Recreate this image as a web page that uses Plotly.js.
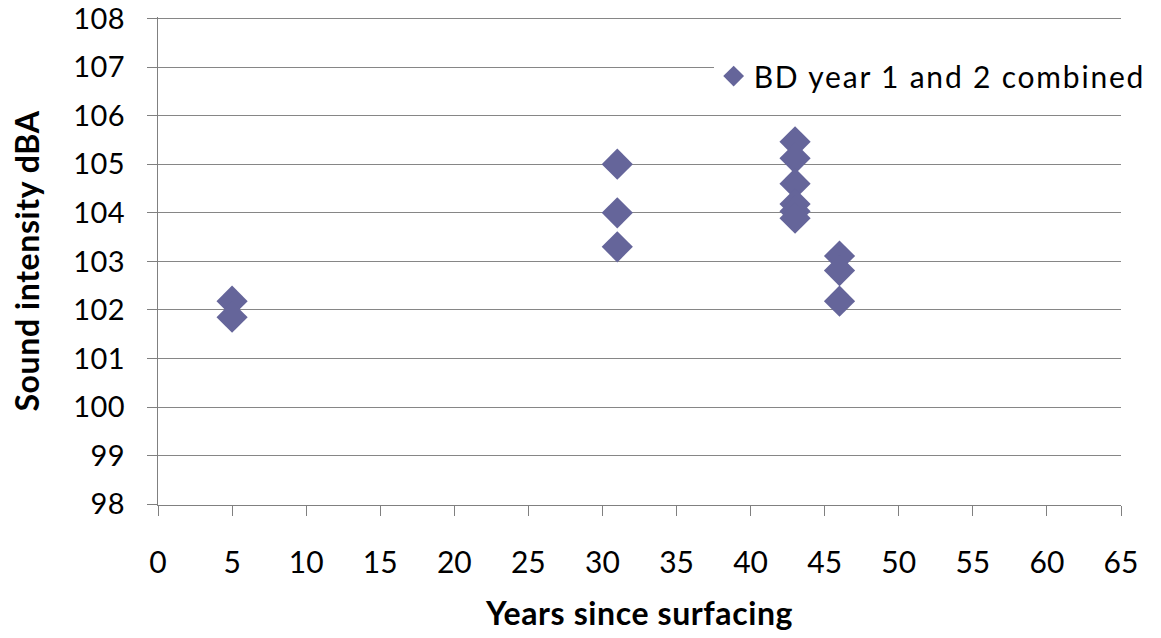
<!DOCTYPE html>
<html>
<head>
<meta charset="utf-8">
<script src="https://cdn.plot.ly/plotly-3.0.1.min.js"></script>
<style>
html,body{margin:0;padding:0;background:#fff;}
#chart{width:1161px;height:638px;}
.legendtext{letter-spacing:1.8px;}
.xtitle,.ytitle{letter-spacing:0.6px;}
.ytick text{letter-spacing:0.5px;}
</style>
</head>
<body>
<div id="chart"></div>
<script>
const years = [5, 5, 31, 31, 31, 43, 43, 43, 43, 43, 43, 46, 46, 46];
const dBA = [102.18, 101.85, 105.0, 104.0, 103.3, 105.46, 105.12, 104.6, 104.18, 104.03, 103.89, 103.11, 102.81, 102.18];
const seriesName = 'BD year 1 and 2 combined';
const xTicks = [0,5,10,15,20,25,30,35,40,45,50,55,60,65];
const yTicks = [98,99,100,101,102,103,104,105,106,107,108];

const fontFam = 'Lato, "Open Sans", sans-serif';
Plotly.newPlot('chart', [{
  x: years, y: dBA, name: seriesName, type: 'scatter', mode: 'markers',
  marker: {symbol: 'diamond', size: 24, color: '#65659a', line: {width: 0}},
  showlegend: true
}], {
  width: 1161, height: 638,
  margin: {l: 158, r: 40, t: 17, b: 133, autoexpand: false},
  paper_bgcolor: '#fff', plot_bgcolor: '#fff',
  showlegend: true,
  legend: {x: 0.577, xanchor: 'left', y: 0.879, yanchor: 'middle', bgcolor: '#fff',
    font: {family: fontFam, size: 30, color: '#000'}, itemwidth: 30},
  xaxis: {range: [0, 65], tickvals: xTicks, ticktext: xTicks.map(String),
    showgrid: false, zeroline: false, showline: true, linecolor: '#808080', linewidth: 1,
    ticks: 'outside', ticklen: 10, tickcolor: '#808080', ticklabelstandoff: 21,
    ticklabeloverflow: 'allow', automargin: false,
    tickfont: {family: fontFam, size: 30, color: '#000'},
    title: {text: 'Years since surfacing', font: {family: fontFam, size: 32, color: '#000', weight: 'bold'}, standoff: 24}},
  yaxis: {range: [97.985, 108.03], tickvals: yTicks, ticktext: yTicks.map(String),
    showgrid: true, gridcolor: '#868686', gridwidth: 1, zeroline: false,
    showline: true, linecolor: '#808080', linewidth: 1,
    ticks: 'outside', ticklen: 10, tickcolor: '#808080', ticklabelstandoff: 16,
    ticklabeloverflow: 'allow', automargin: false,
    tickfont: {family: fontFam, size: 29, color: '#000'},
    title: {text: 'Sound intensity dBA', font: {family: fontFam, size: 32, color: '#000', weight: 'bold'}, standoff: 24}}
}, {displayModeBar: false, staticPlot: true});
</script>
</body>
</html>
